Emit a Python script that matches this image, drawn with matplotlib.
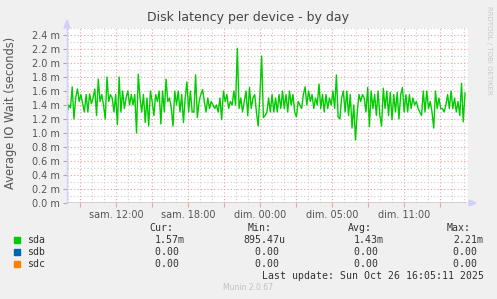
import matplotlib
matplotlib.use("Agg")
import matplotlib.pyplot as plt
import numpy as np

# latence sda (en ms), un point toutes les ~10 min
sda_ms = [
    1.28, 1.4, 1.36, 1.66, 1.2, 1.5, 1.63, 1.45, 1.55, 1.42, 1.3, 1.55, 1.3, 1.56,
    1.42, 1.5, 1.63, 1.25, 1.77, 1.45, 1.55, 1.4, 1.2, 1.8, 1.45, 1.55, 1.5, 1.3,
    1.55, 1.12, 1.8, 1.3, 1.6, 1.35, 1.5, 1.6, 1.4, 1.55, 1.4, 1.55, 1.0, 1.84,
    1.5, 1.3, 1.55, 1.15, 1.5, 1.1, 1.6, 1.45, 1.25, 1.55, 1.45,
    1.6, 1.13, 1.6, 1.3, 1.77, 1.45, 1.5, 1.35, 1.1, 1.6, 1.4, 1.6, 1.3, 1.55,
    1.15, 1.5, 1.73, 1.3, 1.6, 1.3, 1.3, 1.83, 1.22, 1.45, 1.55, 1.62, 1.45, 1.3,
    1.5, 1.35, 1.45, 1.4, 1.35, 1.4, 1.3, 1.5, 1.19, 1.6, 1.45, 1.55, 1.35, 1.45,
    1.4, 1.6, 1.4, 2.21, 1.35, 1.5, 1.3, 1.45, 1.6, 1.25, 1.65, 1.35, 1.5,
    1.55, 1.3, 1.1, 1.55, 2.1, 1.22, 1.25, 1.3, 1.5, 1.3, 1.55, 1.3, 1.5, 1.3,
    1.55, 1.35, 1.6, 1.35, 1.55, 1.3, 1.6, 1.4, 1.55, 1.3, 1.23, 1.45, 1.4, 1.35,
    1.55, 1.66, 1.4, 1.6, 1.45, 1.55, 1.35, 1.5, 1.4, 1.7, 1.35, 1.55, 1.3, 1.55,
    1.35, 1.5, 1.4, 1.6, 1.35, 1.83, 1.23, 1.2, 1.5, 1.6, 1.3, 1.6, 1.25, 1.55,
    1.07, 1.4, 0.9, 1.3, 1.55, 1.45,
    1.55, 1.5, 1.3, 1.65, 1.09, 1.6, 1.35, 1.55, 1.25, 1.6, 1.25, 1.1, 1.64, 1.35,
    1.6, 1.25, 1.58, 1.19, 1.55, 1.3, 1.58, 1.2, 1.55, 1.65, 1.3, 1.55, 1.3, 1.55,
    1.35, 1.5, 1.4, 1.45, 1.35, 1.3, 1.25, 1.6, 1.3, 1.6, 1.35, 1.45, 1.3, 1.07,
    1.6, 1.35, 1.5, 1.35, 1.35, 1.3, 1.4, 1.55, 1.35, 1.6, 1.35, 1.5, 1.3, 1.45,
    1.25, 1.71, 1.16, 1.57,
]

# axe du temps en heures "lineaires" depuis sam. 00:00 (changement d'heure inclus)
t_debut, t_fin = 7.92, 41.08
x_min, x_max = 7.92, 41.33
tick_pos = [12, 18, 24, 30, 36]
tick_lbl = ["sam. 12:00", "sam. 18:00", "dim. 00:00", "dim. 05:00", "dim. 11:00"]
y_ticks = [0.0, 0.2, 0.4, 0.6, 0.8, 1.0, 1.2, 1.4, 1.6, 1.8, 2.0, 2.2, 2.4]

devices = ["sda", "sdb", "sdc"]
couleurs = ["#00cc00", "#0066b3", "#ff8000"]
cur = ["1.57m", "0.00 ", "0.00 "]
mins = ["895.47u", "  0.00 ", "  0.00 "]
avgs = ["1.43m", "0.00 ", "0.00 "]
maxs = ["2.21m", "0.00 ", "0.00 "]

W, H = 497, 299
fig = plt.figure(figsize=(W / 100, H / 100), dpi=100, facecolor="#f0f0f0")
ax = fig.add_axes([67 / W, 1 - 203 / H, 401 / W, 175 / H], facecolor="white")

t = np.linspace(t_debut, t_fin, len(sda_ms))
ax.plot(t, sda_ms, color=couleurs[0], lw=1.0, zorder=3)
ax.plot(t, np.zeros_like(t), color=couleurs[1], lw=1.0, zorder=3)
ax.plot([x_min, x_max], [0, 0], color=couleurs[2], lw=1.0, zorder=4, alpha=0.8)

ax.set_xlim(x_min, x_max)
ax.set_ylim(0, 2.5)

# grille : mineure grise toutes les heures / 0.1m, majeure rouge toutes les 3h / 0.2m
for h in range(8, 42):
    if h % 3 == 0:
        ax.axvline(h, color="#f0a0a0", lw=0.8, ls=(0, (1, 2)), zorder=1)
    else:
        ax.axvline(h, color="#d0d0d0", lw=0.8, ls=(0, (1, 2)), zorder=0)
for v in np.arange(0.1, 2.55, 0.1):
    if round(v * 10) % 2 == 0:
        ax.axhline(v, color="#f0a0a0", lw=0.8, ls=(0, (1, 2)), zorder=1)
    else:
        ax.axhline(v, color="#d0d0d0", lw=0.8, ls=(0, (1, 2)), zorder=0)

for s in ax.spines.values():
    s.set_visible(False)
ax.set_xticks(range(9, 42, 3))
ax.set_xticklabels([tick_lbl[tick_pos.index(p)] if p in tick_pos else "" for p in range(9, 42, 3)])
ax.tick_params(axis="x", length=3, color="#f0a0a0", labelsize=7, labelcolor="#555555", pad=2)
ax.set_yticks(y_ticks)
ax.set_yticklabels([f"{v:.1f} m" for v in y_ticks])
ax.tick_params(axis="y", length=3, color="#aaaaaa", labelsize=7, labelcolor="#555555", pad=2)
fig.text(11 / W, 1 - 113 / H, "Average IO Wait (seconds)", rotation=90, ha="center", va="center",
         fontsize=8.3, color="#555555")

# axes avec fleches
fig.add_artist(plt.Line2D([67 / W, 67 / W], [1 - 203 / H, 1 - 24 / H], color="#d0d0ff", lw=1))
fig.add_artist(plt.Polygon([[64 / W, 1 - 28 / H], [70 / W, 1 - 28 / H], [67 / W, 1 - 20 / H]],
                           closed=True, color="#d0d0ff"))
fig.add_artist(plt.Polygon([[469 / W, 1 - 200 / H], [469 / W, 1 - 206 / H], [476 / W, 1 - 203 / H]],
                           closed=True, color="#d0d0ff"))

fig.text(248 / W, 1 - 18 / H, "Disk latency per device - by day", ha="center", va="center",
         fontsize=9, color="#444444")
fig.text(489 / W, 1 - 6 / H, "RRDTOOL / TOBI OETIKER", rotation=270, ha="center", va="top",
         fontsize=5, color="#c8c8c8")

# legende
mono = dict(family="DejaVu Sans Mono", fontsize=7.1, color="#333333", va="center")
for x, h in [(149, "Cur:"), (248, "Min:"), (348, "Avg:"), (447, "Max:")]:
    fig.text(x / W, 1 - 228 / H, h, **mono)
for i, dev in enumerate(devices):
    y = 1 - (240 + 12 * i) / H
    fig.add_artist(plt.Rectangle((14 / W, y - 3 / H), 6 / W, 6 / H, color=couleurs[i]))
    fig.text(27 / W, y, dev, **mono)
    fig.text(155 / W, y, cur[i], **mono)
    fig.text(243 / W, y, mins[i], **mono)
    fig.text(354 / W, y, avgs[i], **mono)
    fig.text(453 / W, y, maxs[i], **mono)
fig.text(262 / W, 1 - 276 / H, "Last update: Sun Oct 26 16:05:11 2025", **mono)
fig.text(248 / W, 1 - 288 / H, "Munin 2.0.67", ha="center", va="center", fontsize=5.5, color="#c0c0c0")

fig.savefig("out.png", dpi=100, facecolor=fig.get_facecolor())
